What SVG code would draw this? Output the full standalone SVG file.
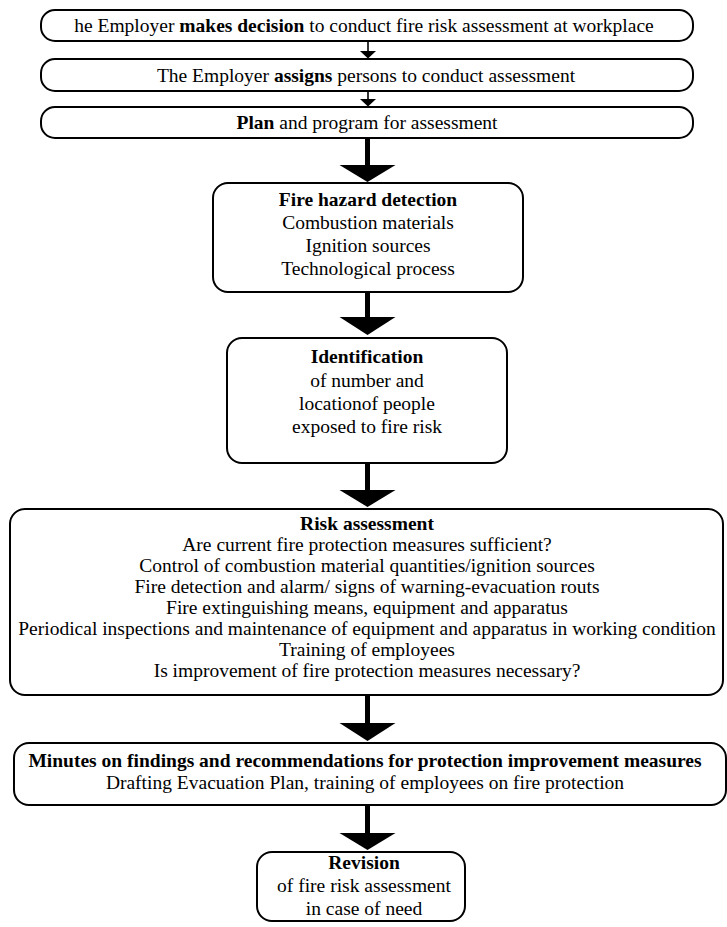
<svg xmlns="http://www.w3.org/2000/svg" width="727" height="927" viewBox="0 0 727 927">
<style>
.box{fill:#fff;stroke:#000;stroke-width:2}
.t{font-family:"Liberation Serif","Times New Roman",serif;font-size:19.5px;fill:#000;text-anchor:middle;font-weight:normal}
.b{font-weight:bold}
.shaft{stroke:#000;stroke-width:5;fill:none}
.thin{stroke:#000;stroke-width:1.6;fill:none}
.head{fill:#000;stroke:none}
</style>
<rect width="727" height="927" fill="#fff"/>
<g id="connectors">
  <line class="thin" x1="368" y1="41" x2="368" y2="52"/>
  <polygon class="head" points="360,51 376,51 368,58.5"/>
  <line class="thin" x1="368" y1="91" x2="368" y2="100"/>
  <polygon class="head" points="360,99 376,99 368,106.5"/>
  <line class="shaft" x1="367.5" y1="138" x2="367.5" y2="166"/>
  <polygon class="head" points="339.5,165 395.5,165 367.5,182"/>
  <line class="shaft" x1="367.5" y1="292" x2="367.5" y2="318"/>
  <polygon class="head" points="339.5,317 395.5,317 367.5,335"/>
  <line class="shaft" x1="367.5" y1="463" x2="367.5" y2="491"/>
  <polygon class="head" points="339.5,490 395.5,490 367.5,507"/>
  <line class="shaft" x1="367.5" y1="695" x2="367.5" y2="724"/>
  <polygon class="head" points="339.5,723 395.5,723 367.5,741"/>
  <line class="shaft" x1="367.5" y1="805" x2="367.5" y2="834"/>
  <polygon class="head" points="339.5,833 395.5,833 367.5,850"/>
</g>
<g id="n1">
  <rect class="box" x="41" y="10" width="652" height="31" rx="14"/>
  <text class="t" x="364" y="32">he Employer <tspan class="b">makes decision</tspan> to conduct fire risk assessment at workplace</text>
</g>
<g id="n2">
  <rect class="box" x="41" y="59" width="652" height="32" rx="14"/>
  <text class="t" x="366" y="81.5">The Employer <tspan class="b">assigns</tspan> persons to conduct assessment</text>
</g>
<g id="n3">
  <rect class="box" x="41" y="107" width="652" height="31" rx="14"/>
  <text class="t" x="367" y="129"><tspan class="b">Plan</tspan> and program for assessment</text>
</g>
<g id="n4">
  <rect class="box" x="213" y="183" width="310" height="109" rx="15"/>
  <text class="t b" x="368" y="206">Fire hazard detection</text>
  <text class="t" x="368" y="229">Combustion materials</text>
  <text class="t" x="368" y="252">Ignition sources</text>
  <text class="t" x="368" y="275">Technological process</text>
</g>
<g id="n5">
  <rect class="box" x="227" y="338" width="280" height="125" rx="15"/>
  <text class="t b" x="367" y="363">Identification</text>
  <text class="t" x="367" y="386.5">of number and</text>
  <text class="t" x="367" y="410">locationof people</text>
  <text class="t" x="367" y="433">exposed to fire risk</text>
</g>
<g id="n6">
  <rect class="box" x="10" y="509" width="713" height="186" rx="15"/>
  <text class="t b" x="367" y="530">Risk assessment</text>
  <text class="t" x="367" y="551">Are current fire protection measures sufficient?</text>
  <text class="t" x="367" y="572">Control of combustion material quantities/ignition sources</text>
  <text class="t" x="367" y="593">Fire detection and alarm/ signs of warning-evacuation routs</text>
  <text class="t" x="367" y="614">Fire extinguishing means, equipment and apparatus</text>
  <text class="t" x="367" y="635">Periodical inspections and maintenance of equipment and apparatus in working condition</text>
  <text class="t" x="367" y="656">Training of employees</text>
  <text class="t" x="367" y="677">Is improvement of fire protection measures necessary?</text>
</g>
<g id="n7">
  <rect class="box" x="14" y="743" width="712" height="62" rx="15"/>
  <text class="t b" x="365" y="767">Minutes on findings and recommendations for protection improvement measures</text>
  <text class="t" x="365" y="789">Drafting Evacuation Plan, training of employees on fire protection</text>
</g>
<g id="n8">
  <rect class="box" x="257" y="852" width="208" height="69" rx="15"/>
  <text class="t b" x="364" y="868.5">Revision</text>
  <text class="t" x="364" y="891.5">of fire risk assessment</text>
  <text class="t" x="364" y="914.5">in case of need</text>
</g>
</svg>
